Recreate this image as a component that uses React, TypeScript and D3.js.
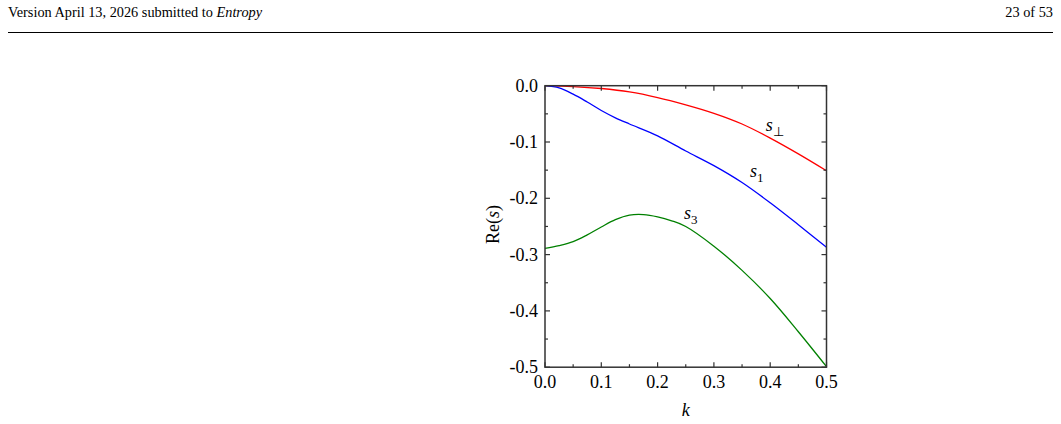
import React, { useEffect, useRef } from "react";
import * as d3 from "d3";

const kPerp = [0, 0.05, 0.1, 0.15, 0.2, 0.25, 0.3, 0.35, 0.4, 0.45, 0.5];
const sPerp = [0, -0.0015, -0.005, -0.011, -0.021, -0.034, -0.049, -0.068, -0.093, -0.121, -0.151];

const kS1 = [0, 0.025, 0.05, 0.075, 0.1, 0.125, 0.15, 0.2, 0.25, 0.3, 0.35, 0.4, 0.45, 0.5];
const sS1 = [0, -0.004, -0.015, -0.029, -0.044, -0.057, -0.068, -0.089, -0.116, -0.142, -0.172, -0.208, -0.247, -0.287];

const kS3 = [0, 0.025, 0.05, 0.075, 0.1, 0.125, 0.15, 0.175, 0.2, 0.225, 0.25, 0.3, 0.35, 0.4, 0.45, 0.5];
const sS3 = [-0.289, -0.284, -0.277, -0.265, -0.251, -0.238, -0.23, -0.229, -0.233, -0.24, -0.25, -0.285, -0.328, -0.378, -0.437, -0.499];

const xTicks = [0, 0.1, 0.2, 0.3, 0.4, 0.5];
const yTicks = [0, -0.1, -0.2, -0.3, -0.4, -0.5];

const curves = [
  { k: kPerp, s: sPerp, color: "#ff0000", label: "s", sub: "\u22A5", at: [0.392, -0.08] },
  { k: kS1, s: sS1, color: "#0000ff", label: "s", sub: "1", at: [0.364, -0.162] },
  { k: kS3, s: sS3, color: "#008000", label: "s", sub: "3", at: [0.247, -0.236] },
];

export default function App() {
  const ref = useRef<SVGSVGElement>(null);

  useEffect(() => {
    const svg = d3.select(ref.current);
    svg.selectAll("*").remove();

    // page header
    const head = svg.append("g").attr("font-family", "Liberation Serif").attr("font-size", 14.3);
    const ht = head.append("text").attr("x", 8).attr("y", 17);
    ht.append("tspan").text("Version April 13, 2026 submitted to ");
    ht.append("tspan").attr("font-style", "italic").text("Entropy");
    head.append("text").attr("x", 1053).attr("y", 17).attr("text-anchor", "end").text("23 of 53");
    head.append("line").attr("x1", 8).attr("x2", 1053).attr("y1", 32.5).attr("y2", 32.5)
      .attr("stroke", "#000").attr("stroke-width", 1.2);

    const left = 545, right = 826.5, top = 85.7, bottom = 367.2;
    const x = d3.scaleLinear().domain([0, 0.5]).range([left, right]);
    const y = d3.scaleLinear().domain([-0.5, 0]).range([bottom, top]);

    const g = svg.append("g");

    // curves
    const line = d3.line<[number, number]>()
      .x(d => x(d[0]))
      .y(d => y(d[1]))
      .curve(d3.curveCatmullRom.alpha(0.5));

    curves.forEach(c => {
      const pts = c.k.map((k, i) => [k, c.s[i]] as [number, number]);
      g.append("path").attr("d", line(pts)).attr("fill", "none")
        .attr("stroke", c.color).attr("stroke-width", 1.3);
      const t = g.append("text").attr("x", x(c.at[0])).attr("y", y(c.at[1]))
        .attr("font-family", "Liberation Serif").attr("font-size", 18);
      t.append("tspan").attr("font-style", "italic").text(c.label);
      t.append("tspan").attr("dy", 5).attr("font-size", 13).text(c.sub);
    });

    // frame
    g.append("rect").attr("x", left).attr("y", top).attr("width", right - left).attr("height", bottom - top)
      .attr("fill", "none").attr("stroke", "#333").attr("stroke-width", 1.5);

    // ticks on four sides, pointing inward
    const xMinor = d3.range(0.05, 0.5, 0.1);
    const yMinor = d3.range(-0.05, -0.5, -0.1);
    const tk = g.append("g").attr("stroke", "#333").attr("stroke-width", 1.2);
    xTicks.concat(xMinor).forEach(v => {
      const len = xTicks.includes(v) ? 5 : 3;
      tk.append("line").attr("x1", x(v)).attr("x2", x(v)).attr("y1", bottom).attr("y2", bottom - len);
      tk.append("line").attr("x1", x(v)).attr("x2", x(v)).attr("y1", top).attr("y2", top + len);
    });
    yTicks.concat(yMinor).forEach(v => {
      const len = yTicks.includes(v) ? 5 : 3;
      tk.append("line").attr("y1", y(v)).attr("y2", y(v)).attr("x1", left).attr("x2", left + len);
      tk.append("line").attr("y1", y(v)).attr("y2", y(v)).attr("x1", right).attr("x2", right - len);
    });

    const lab = g.append("g").attr("font-family", "Liberation Serif").attr("font-size", 18).attr("fill", "#000");
    xTicks.forEach(v => {
      lab.append("text").attr("x", x(v)).attr("y", bottom + 21).attr("text-anchor", "middle").text(d3.format(".1f")(v));
    });
    yTicks.forEach(v => {
      lab.append("text").attr("x", left - 7).attr("y", y(v) + 6).attr("text-anchor", "end")
        .text(d3.format(".1f")(v).replace("\u2212", "-"));
    });

    // axis titles
    lab.append("text").attr("x", (left + right) / 2).attr("y", 416).attr("text-anchor", "middle")
      .attr("font-style", "italic").text("k");
    const yl = lab.append("text").attr("transform", `translate(499,${(top + bottom) / 2 - 2}) rotate(-90)`)
      .attr("text-anchor", "middle");
    yl.append("tspan").text("Re(");
    yl.append("tspan").attr("font-style", "italic").text("s");
    yl.append("tspan").text(")");
  }, []);

  return (
    <svg ref={ref} width={1061} height={424}
      style={{ position: "absolute", left: 0, top: 0, background: "#fff" }} />
  );
}
